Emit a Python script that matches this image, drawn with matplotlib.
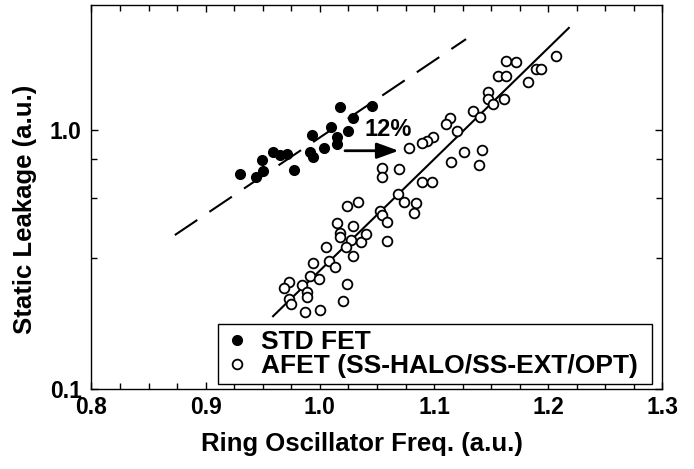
import numpy as np
import matplotlib.pyplot as plt
from matplotlib.ticker import FixedLocator, MultipleLocator, NullFormatter

plt.rcParams['font.family'] = ['Liberation Sans', 'DejaVu Sans']
plt.rcParams['font.weight'] = 'bold'

# STD FET (filled)
std_x = [0.930, 0.944, 0.950, 0.949, 0.959, 0.965, 0.971, 0.977, 0.993, 0.991,
         0.994, 1.004, 1.015, 1.015, 1.010, 1.025, 1.029, 1.018, 1.046]
std_y = [0.676, 0.659, 0.695, 0.766, 0.822, 0.801, 0.808, 0.701, 0.956, 0.822,
         0.787, 0.852, 0.936, 0.883, 1.027, 0.991, 1.112, 1.227, 1.238]

# AFET (open)
afet_x = [1.207, 1.163, 1.172, 1.156, 1.163, 1.189, 1.194, 1.182, 1.147, 1.147,
          1.152, 1.161, 1.134, 1.140, 1.114, 1.110, 1.120, 1.099, 1.094, 1.089,
          1.078, 1.126, 1.142, 1.115, 1.139,
          1.054, 1.054, 1.069, 1.089, 1.098, 1.068, 1.074, 1.084, 1.082, 1.053,
          1.054, 1.059, 1.059, 1.024, 1.033, 1.015, 1.029, 1.018, 1.018, 1.027,
          1.036, 1.040, 1.023, 1.005, 1.029, 0.994, 1.008, 1.013, 0.991, 0.999,
          0.973, 0.969, 0.984, 0.989, 0.989, 0.973, 0.975, 1.024, 1.020, 0.987,
          1.000]
afet_y = [1.931, 1.847, 1.830, 1.616, 1.616, 1.720, 1.728, 1.537, 1.406, 1.321,
          1.258, 1.317, 1.184, 1.122, 1.117, 1.055, 0.991, 0.942, 0.909, 0.889,
          0.850, 0.824, 0.837, 0.756, 0.733,
          0.711, 0.657, 0.707, 0.630, 0.630, 0.566, 0.529, 0.522, 0.477, 0.487,
          0.470, 0.440, 0.373, 0.509, 0.527, 0.437, 0.426, 0.402, 0.385, 0.376,
          0.370, 0.397, 0.354, 0.354, 0.326, 0.307, 0.312, 0.297, 0.273, 0.265,
          0.260, 0.245, 0.251, 0.237, 0.226, 0.222, 0.212, 0.254, 0.219, 0.198,
          0.201]

# trend lines
std_fit_x = [0.873, 1.128]
std_fit_y = [0.393, 2.245]
afet_fit_x = [0.959, 1.218]
afet_fit_y = [0.191, 2.48]

# 12% shift annotation
shift_start = (1.022, 0.832)
shift_end = (1.069, 0.832)
shift_label_pos = (1.060, 1.009)

x_ticks = [0.8, 0.9, 1.0, 1.1, 1.2, 1.3]
y_ticks = [0.1, 1.0]
y_minor = [0.321, 0.546, 0.773]

fig = plt.figure(figsize=(6.94, 4.69), dpi=100)
ax = fig.add_axes([0.1318, 0.1706, 0.8228, 0.8187])

ax.plot(std_fit_x, std_fit_y, color='black', lw=1.5, linestyle=(0, (13, 7)))
ax.plot(afet_fit_x, afet_fit_y, color='black', lw=1.5)

ax.plot(std_x, std_y, 'o', color='black', ms=7, label='STD FET')
ax.plot(afet_x, afet_y, 'o', mfc='white', mec='black', mew=1.3, ms=7,
        label='AFET (SS-HALO/SS-EXT/OPT)')

ax.annotate('', xy=shift_end, xytext=shift_start,
            arrowprops=dict(arrowstyle='-|>,head_length=0.55,head_width=0.2',
                            color='black', lw=2, mutation_scale=24,
                            shrinkA=0, shrinkB=0))
ax.text(shift_label_pos[0], shift_label_pos[1], '12%', fontsize=17,
        fontweight='bold', ha='center', va='center')

ax.set_yscale('log')
ax.set_xlim(0.8, 1.3)
ax.set_ylim(0.1, 3.04)
ax.set_xticks(x_ticks)
ax.set_xticklabels(['%.1f' % v for v in x_ticks])
ax.xaxis.set_minor_locator(MultipleLocator(0.025))
ax.yaxis.set_major_locator(FixedLocator(y_ticks))
ax.set_yticklabels(['0.1', '1.0'])
ax.yaxis.set_minor_locator(FixedLocator(y_minor))
ax.yaxis.set_minor_formatter(NullFormatter())

ax.tick_params(which='both', direction='in', top=True, right=True,
               labelsize=16.5, width=1)
ax.tick_params(which='major', length=5)
ax.tick_params(which='minor', length=4)
ax.tick_params(axis='y', pad=7)
ax.tick_params(axis='x', pad=5)
for lab in ax.get_xticklabels() + ax.get_yticklabels():
    lab.set_fontweight('bold')
for s in ax.spines.values():
    s.set_linewidth(1)

ax.set_xlabel('Ring Oscillator Freq. (a.u.)', fontsize=18.5, fontweight='bold')
ax.set_ylabel('Static Leakage (a.u.)', fontsize=18.5, fontweight='bold')
ax.xaxis.set_label_coords(0.474, -0.113)
ax.yaxis.set_label_coords(-0.0954, 0.469)

leg = ax.legend(loc='lower left', bbox_to_anchor=(0.2215, 0.013, 0.760, 0.161),
                mode='expand', borderaxespad=0, fancybox=False, framealpha=1,
                prop={'size': 19, 'weight': 'bold'}, handlelength=1.0,
                handletextpad=0.42, labelspacing=0.0, borderpad=0.22)
leg.get_frame().set_edgecolor('black')
leg.get_frame().set_linewidth(1)

fig.savefig('out.png', dpi=100)
